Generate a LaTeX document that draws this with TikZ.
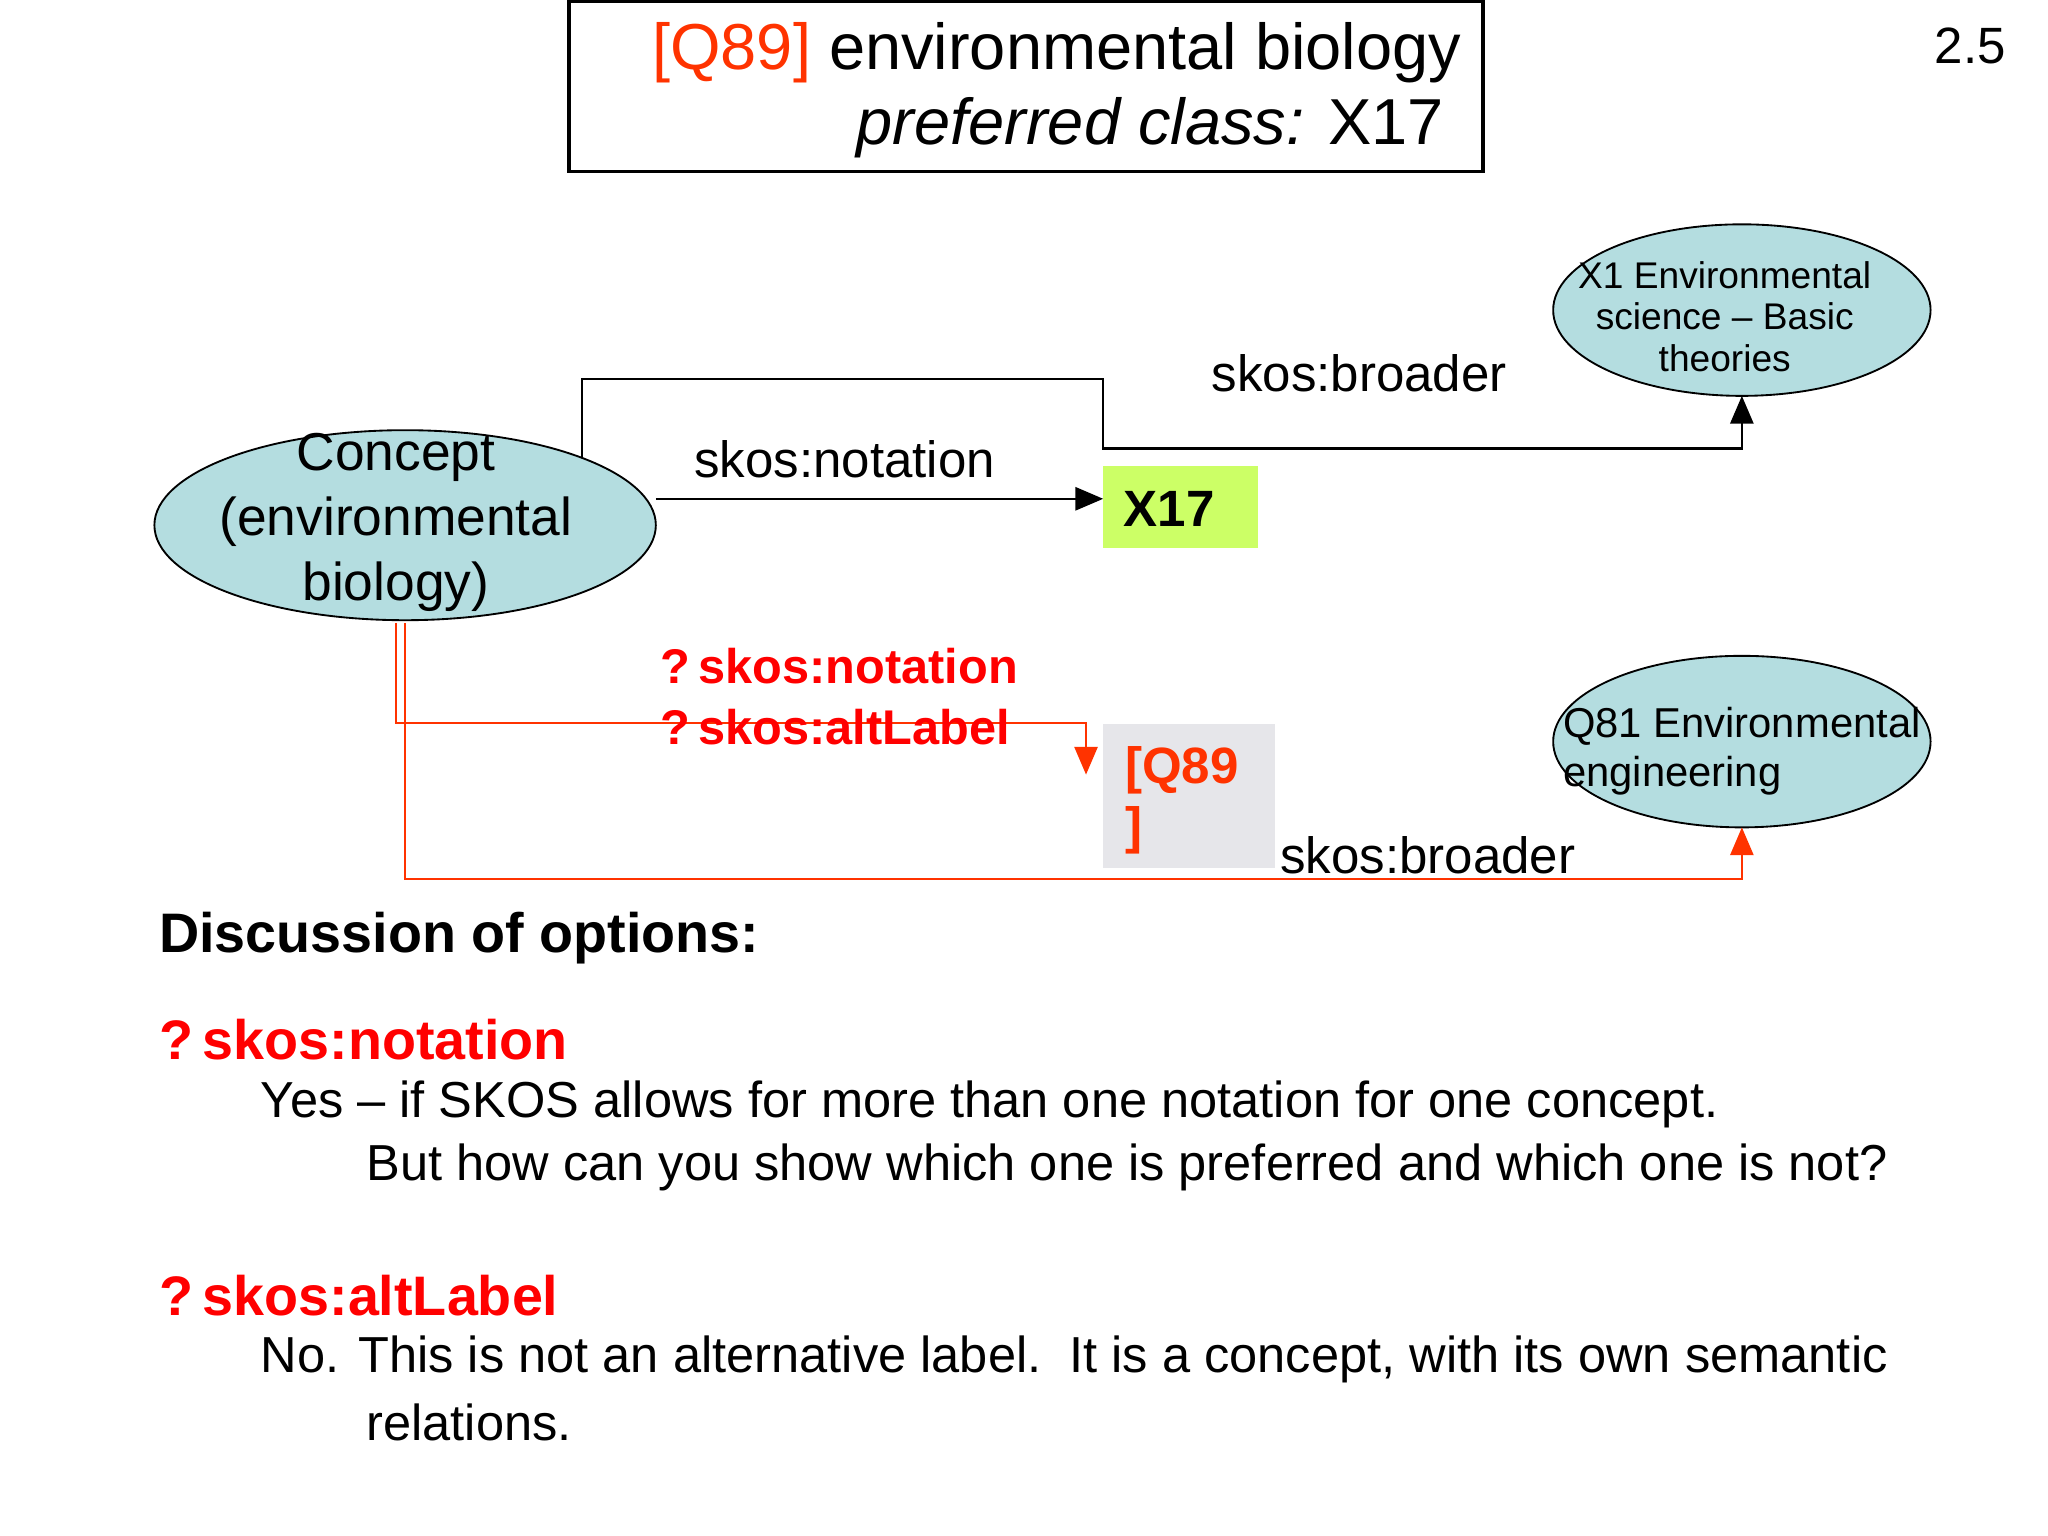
\documentclass[tikz,border=0pt]{standalone}
\usepackage{fontspec}
\setmainfont{Liberation Sans}
\usetikzlibrary{arrows.meta}
\definecolor{teal1}{HTML}{B4DDE0}
\definecolor{qred}{HTML}{FF3300}
\definecolor{rred}{HTML}{FF0000}
\definecolor{lime}{HTML}{CCFF66}
\definecolor{lgray}{HTML}{E6E6EA}
\tikzset{
 ell/.style={draw,ellipse,fill=teal1,align=center,inner sep=0pt},
 lbl/.style={font=\fontsize{11}{12}\selectfont,inner sep=0pt},
 rlbl/.style={font=\fontsize{10.5}{14}\selectfont\bfseries,text=rred,inner sep=0pt,anchor=west},
 body/.style={font=\fontsize{10.9}{12}\selectfont,inner sep=0pt,anchor=west},
 blk/.style={-{Triangle[length=6pt,width=5pt]},line width=0.5pt},
 red/.style={-{Triangle[length=6pt,width=5pt]},draw=qred,line width=0.5pt},
}
\begin{document}
\begin{tikzpicture}[x=0.01cm,y=-0.01cm]
\useasboundingbox (0,0) rectangle (1552,1164);
\draw[line width=0.8pt] (431,1) rectangle (1124,130);
\node[anchor=east,inner sep=0pt,font=\fontsize{14}{16}\selectfont] (t1) at (1108,40) {\textcolor{qred}{[Q89]} environmental biology};
\node[anchor=east,inner sep=0pt,font=\fontsize{14}{16}\selectfont] (t2) at (1095,97) {\itshape preferred class:\upshape{} X17};
\node[inner sep=0pt,font=\fontsize{11}{13}\selectfont] (pg) at (1493,35) {2.5};

\draw[fill=teal1] (307,398) ellipse [x radius=190,y radius=72];
\node[align=center,inner sep=0pt,font=\fontsize{11.5}{14}\selectfont] (c) at (300,396) {Concept\\(environmental\\biology)};
\draw[fill=teal1] (1320,235) ellipse [x radius=143,y radius=65];
\node[align=center,inner sep=0pt,font=\fontsize{8}{9}\selectfont] (x1) at (1307,240) {X1 Environmental\\science -- Basic\\theories};
\draw[fill=teal1] (1320,562) ellipse [x radius=143,y radius=65];
\node[align=left,inner sep=0pt,font=\fontsize{9}{10.5}\selectfont] (q81) at (1320,569) {Q81 Environmental\\engineering};

\fill[lime] (836,353) rectangle (953,415);
\node[inner sep=0pt,font=\fontsize{11}{13}\selectfont\bfseries] (x17) at (886,386) {X17};
\fill[lgray] (836,549) rectangle (966,658);
\node[anchor=north west,align=left,inner sep=0pt,font=\fontsize{11}{13}\selectfont\bfseries,text=qred] (q89) at (852,565) {[Q89\\]};

\coordinate (b0) at (441,347);
\coordinate (x1b) at (1320,300);
\draw[blk] (b0) -- (441,287) -- (836,287) -- (836,340) -- (1320,340) -- (x1b);
\coordinate (n0) at (497,378);
\coordinate (n1) at (836,378);
\draw[blk] (n0) -- (n1);
\node[lbl] (lb1) at (1030,283) {skos:broader};
\node[lbl] (lb2) at (640,348) {skos:notation};

\coordinate (r0) at (300,472);
\coordinate (r1) at (823,587);
\draw[red] (r0) -- (300,548) -- (823,548) -- (r1);
\coordinate (s0) at (307,472);
\coordinate (s1) at (1320,627);
\draw[red] (s0) -- (307,666) -- (1320,666) -- (s1);
\node[rlbl] (rl1) at (500,505) {?\,skos:notation};
\node[rlbl] (rl2) at (500,551) {?\,skos:altLabel};
\node[lbl] (lb3) at (1082,648) {skos:broader};

\node[body,font=\fontsize{12}{13}\selectfont\bfseries] (d) at (120,711) {Discussion of options:};
\node[body,font=\fontsize{12}{14}\selectfont\bfseries,text=rred] (o1) at (120,788) {?\,skos:notation};
\node[body] (y1) at (197,837) {Yes -- if SKOS allows for more than one notation for one concept.};
\node[body] (y2) at (277,885) {But how can you show which one is preferred and which one is not?};
\node[body,font=\fontsize{12}{14}\selectfont\bfseries,text=rred] (o2) at (120,982) {?\,skos:altLabel};
\node[body] (n1t) at (197,1030) {No. This is not an alternative label.\ \ It is a concept, with its own semantic};
\node[body] (n2t) at (277,1078) {relations.};
\end{tikzpicture}
\end{document}
